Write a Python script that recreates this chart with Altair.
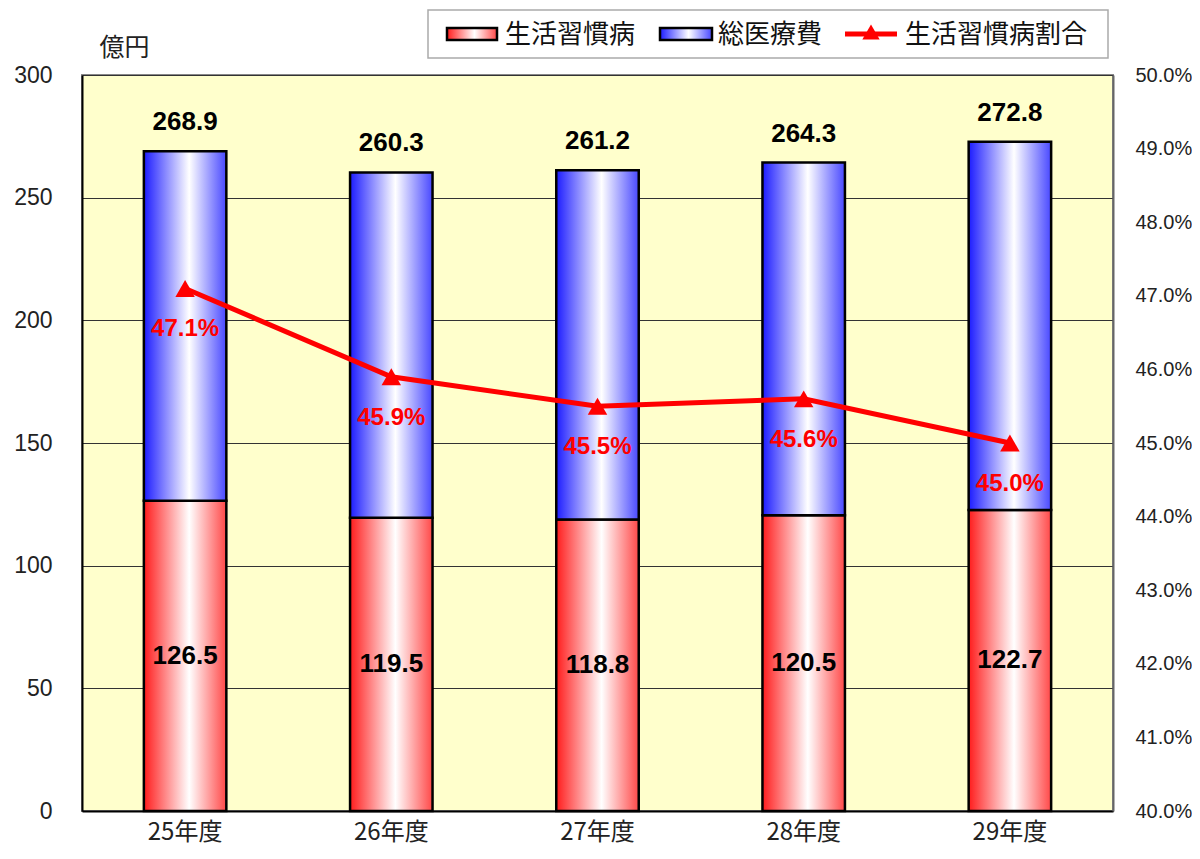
import altair as alt
import pandas as pd

years = ["25年度", "26年度", "27年度", "28年度", "29年度"]
lifestyle = [126.5, 119.5, 118.8, 120.5, 122.7]
total = [268.9, 260.3, 261.2, 264.3, 272.8]
ratio = [0.471, 0.459, 0.455, 0.456, 0.450]
left_ticks = [0, 50, 100, 150, 200, 250, 300]
right_ticks = [0.40, 0.41, 0.42, 0.43, 0.44, 0.45, 0.46, 0.47, 0.48, 0.49, 0.50]

df = pd.DataFrame({"year": years, "lifestyle": lifestyle, "total": total, "ratio": ratio})

FONT = "Liberation Sans, Noto Sans CJK JP, sans-serif"
JFONT = "Noto Sans CJK JP, sans-serif"


def grad(edge_l, edge_r):
    return alt.LinearGradient(
        gradient="linear",
        stops=[
            alt.GradientStop(color=edge_l, offset=0),
            alt.GradientStop(color="#ffffff", offset=0.55),
            alt.GradientStop(color=edge_r, offset=1),
        ],
        x1=0, x2=1, y1=0, y2=0,
    )


RED = grad("#ff1c1c", "#ff4848")
BLUE = grad("#1c1cff", "#4848ff")

base = alt.Chart(df)

x = alt.X(
    "year:N", sort=years,
    scale=alt.Scale(paddingInner=0.6, paddingOuter=0.3),
    axis=alt.Axis(title=None, labelAngle=0, labelFontSize=24, labelPadding=9,
                  ticks=False, domainColor="black", domainWidth=2,
                  labelColor="#222", labelFont=JFONT),
)
yl_scale = alt.Scale(domain=[0, 300])
yr_scale = alt.Scale(domain=[0.40, 0.50])

left_axis = alt.Axis(values=left_ticks, title="億円", titleAngle=0, titleX=42, titleY=-28,
                     titleAlign="center", titleBaseline="middle", titleFontSize=25,
                     titleFontWeight="normal", titleFont=JFONT, titleColor="#222",
                     labelFontSize=23, labelPadding=30, labelColor="#222", labelFont=FONT,
                     ticks=False, grid=True, gridColor="#333", gridWidth=1,
                     domainColor="black", domainWidth=2, orient="left")
right_axis = alt.Axis(orient="right", values=right_ticks, format=".1%", title=None,
                      labelFontSize=20, labelPadding=22, labelColor="#222", labelFont=FONT,
                      ticks=False, grid=False, domainColor="#666", domainWidth=2)

red_bars = base.mark_bar(fill=RED, stroke="black", strokeWidth=2.5).encode(
    x=x,
    y=alt.Y("lifestyle:Q", scale=yl_scale, axis=left_axis),
)
blue_bars = base.mark_bar(fill=BLUE, stroke="black", strokeWidth=2.5).encode(
    x=x,
    y=alt.Y("total:Q", scale=yl_scale, axis=None),
    y2="lifestyle:Q",
)
total_text = base.mark_text(dy=-29, fontSize=26, fontWeight="bold", font=FONT, color="black",
                            baseline="middle").encode(
    x=x, y=alt.Y("total:Q", scale=yl_scale, axis=None),
    text=alt.Text("total:Q", format=".1f"),
)
life_text = base.transform_calculate(half="datum.lifestyle / 2").mark_text(
    fontSize=26, fontWeight="bold", font=FONT, color="black", baseline="middle").encode(
    x=x, y=alt.Y("half:Q", scale=yl_scale, axis=None),
    text=alt.Text("lifestyle:Q", format=".1f"),
)
line = base.mark_line(color="#ff0000", strokeWidth=5).encode(
    x=x,
    y=alt.Y("ratio:Q", scale=yr_scale, axis=right_axis),
)
pts = base.mark_point(shape="triangle-up", filled=True, size=380, color="#ff0000", opacity=1).encode(
    x=x, y=alt.Y("ratio:Q", scale=yr_scale, axis=None),
)
pct_text = base.mark_text(dy=41, fontSize=24, fontWeight="bold", font=FONT, color="#ff0000",
                          baseline="middle").encode(
    x=x, y=alt.Y("ratio:Q", scale=yr_scale, axis=None),
    text=alt.Text("ratio:Q", format=".1%"),
)

# custom legend
one = alt.Data(values=[{"k": 1}])
leg_box = alt.Chart(one).mark_rect(fill="white", stroke="#aaa", strokeWidth=1.5).encode(
    x=alt.value(346), x2=alt.value(1026), y=alt.value(-65), y2=alt.value(-17))
leg_red = alt.Chart(one).mark_rect(fill=RED, stroke="black", strokeWidth=2.5).encode(
    x=alt.value(365), x2=alt.value(415), y=alt.value(-47), y2=alt.value(-35))
leg_blue = alt.Chart(one).mark_rect(fill=BLUE, stroke="black", strokeWidth=2.5).encode(
    x=alt.value(578), x2=alt.value(630), y=alt.value(-47), y2=alt.value(-35))
leg_line = alt.Chart(one).mark_rule(color="#ff0000", strokeWidth=5).encode(
    x=alt.value(763), x2=alt.value(815), y=alt.value(-41))
leg_tri = alt.Chart(one).mark_point(shape="triangle-up", filled=True, size=300, color="#ff0000",
                                    opacity=1).encode(x=alt.value(789), y=alt.value(-43))


def leg_text(xv, t):
    return alt.Chart(one).mark_text(align="left", baseline="middle", fontSize=26, font=JFONT,
                                    color="#111").encode(
        x=alt.value(xv), y=alt.value(-40), text=alt.value(t))


chart = alt.layer(
    red_bars, blue_bars, total_text, life_text, line, pts, pct_text,
    leg_box, leg_red, leg_blue, leg_line, leg_tri,
    leg_text(423, "生活習慣病"), leg_text(636, "総医療費"), leg_text(823, "生活習慣病割合"),
).resolve_scale(y="independent").properties(
    width=1031, height=736,
    padding={"left": 74, "top": 67, "right": 79, "bottom": 36},
    autosize=alt.AutoSizeParams(type="none"),
).configure_view(fill="#FFFFCC", stroke="#888", strokeWidth=2)

chart.save("out.html", embed_options={"renderer": "svg", "actions": False})
